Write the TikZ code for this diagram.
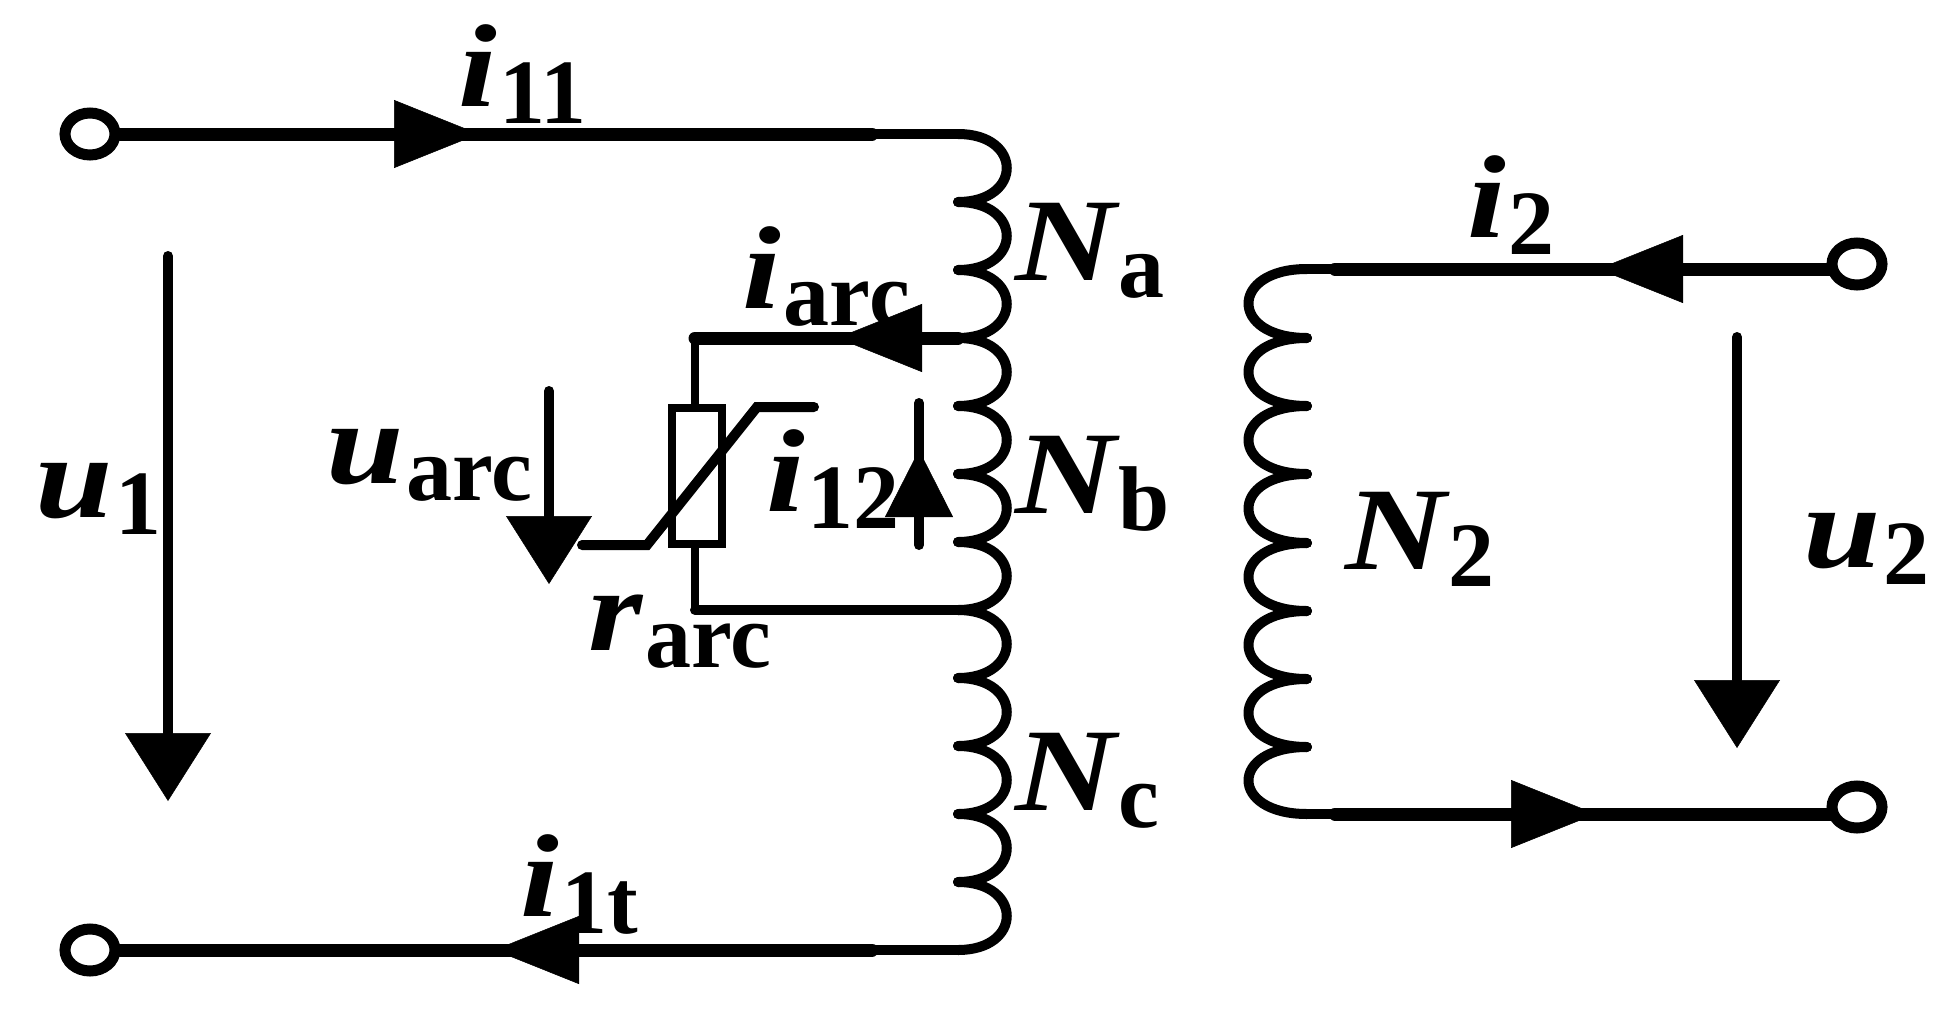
\documentclass[tikz,border=0pt]{standalone}
\usepackage{fontspec}
\setmainfont{Liberation Serif}
\usepackage{tikz}
\usetikzlibrary{shapes.geometric,arrows.meta}
\pgfdeclarelayer{edgelayer}
\pgfdeclarelayer{nodelayer}
\pgfsetlayers{edgelayer,nodelayer,main}
\tikzstyle{terminal}=[ellipse, fill=white, draw=black, line width=11pt, minimum width=50pt, minimum height=42pt, inner sep=0pt]
\tikzstyle{varistor}=[rectangle, draw=black, line width=8.5pt, minimum width=50pt, minimum height=136pt, inner sep=0pt]
\tikzstyle{label}=[inner sep=0pt, anchor=base west]
\tikzstyle{heavy}=[draw=black, line width=13pt, line cap=round]
\tikzstyle{light}=[draw=black, line width=10pt, line cap=round]
\tikzstyle{coilright}=[draw=black, line width=10pt, line cap=round, to path={(\tikztostart) .. controls +(65,0) and +(65,0) .. (\tikztotarget)}]
\tikzstyle{coilleft}=[draw=black, line width=10pt, line cap=round, to path={(\tikztostart) .. controls +(-78,0) and +(-78,0) .. (\tikztotarget)}]
\tikzstyle{head}=[draw=black, line width=0.5pt, -{Triangle[length=85pt,width=68pt]}]
\tikzstyle{smallhead}=[draw=black, line width=0.5pt, -{Triangle[length=67pt,width=68pt]}]
\tikzstyle{bighead}=[draw=black, line width=0.5pt, -{Triangle[length=68pt,width=86pt]}]
\newcommand{\sym}[2]{\scalebox{1.18}[1]{\fontsize{118}{118}\selectfont\bfseries\itshape #1}\hspace{3pt}{\fontsize{92}{92}\selectfont\bfseries\raisebox{-17pt}{#2}}}
\begin{document}
\begin{tikzpicture}[x=1pt,y=-1pt]
	\useasboundingbox (0,0) rectangle (1954,1017);
	\begin{pgfonlayer}{nodelayer}

	%terminals
		\node [style=terminal] (t1) at (90,134) {};
		\node [style=terminal] (t2) at (90,950) {};
		\node [style=terminal] (t3) at (1857,264) {};
		\node [style=terminal] (t4) at (1857,807) {};
		\node [style=varistor] (r) at (697,476) {};

	%labels
		\node [style=label] (li11) at (458,106) {\sym{i}{11}};
		\node [style=label] (li1t) at (520,916) {\sym{i}{1t}};
		\node [style=label] (liarc) at (742,308) {\sym{i}{arc}};
		\node [style=label] (li12) at (766,511) {\sym{i}{12}};
		\node [style=label] (li2) at (1467,237) {\sym{i}{2}};
		\node [style=label] (lu1) at (35,517) {\sym{u}{1}};
		\node [style=label] (luarc) at (326,483) {\sym{u}{arc}};
		\node [style=label] (lu2) at (1803,567) {\sym{u}{2}};
		\node [style=label] (lrarc) at (588,650) {\sym{r}{arc}};
		\node [style=label] (lna) at (1015,280) {\sym{N}{a}};
		\node [style=label] (lnb) at (1015,513) {\sym{N}{b}};
		\node [style=label] (lnc) at (1015,810) {\sym{N}{c}};
		\node [style=label] (ln2) at (1345,569) {\sym{N}{2}};

	\end{pgfonlayer}

	%primary winding
	\coordinate (a0) at (958,134);
	\coordinate (a1) at (958,202);
	\coordinate (a2) at (958,270);
	\coordinate (a3) at (958,338);
	\coordinate (a4) at (958,406);
	\coordinate (a5) at (958,474);
	\coordinate (a6) at (958,542);
	\coordinate (a7) at (958,610);
	\coordinate (a8) at (958,678);
	\coordinate (a9) at (958,746);
	\coordinate (a10) at (958,814);
	\coordinate (a11) at (958,882);
	\coordinate (a12) at (958,950);

	%secondary winding
	\coordinate (b0) at (1307,269);
	\coordinate (b1) at (1307,338);
	\coordinate (b2) at (1307,406);
	\coordinate (b3) at (1307,474);
	\coordinate (b4) at (1307,543);
	\coordinate (b5) at (1307,611);
	\coordinate (b6) at (1307,679);
	\coordinate (b7) at (1307,747);
	\coordinate (b8) at (1307,814);

	%wire ends
	\coordinate (c1) at (872,134);
	\coordinate (c2) at (872,950);
	\coordinate (c3) at (695,338);
	\coordinate (c4) at (695,610);
	\coordinate (c5) at (1335,269);
	\coordinate (c6) at (1335,814);
	\coordinate (c7) at (1835,269);
	\coordinate (c8) at (1835,814);

	%arrows
	\coordinate (h1) at (394,134);
	\coordinate (k1) at (479,134);
	\coordinate (h2) at (579,950);
	\coordinate (k2) at (494,950);
	\coordinate (h3) at (922,338);
	\coordinate (k3) at (837,338);
	\coordinate (h4) at (1683,269);
	\coordinate (k4) at (1598,269);
	\coordinate (h5) at (1511,814);
	\coordinate (k5) at (1596,814);
	\coordinate (h6) at (919,517);
	\coordinate (k6) at (919,450);
	\coordinate (e6) at (919,403);
	\coordinate (f6) at (919,545);
	\coordinate (e7) at (168,256);
	\coordinate (h7) at (168,733);
	\coordinate (k7) at (168,801);
	\coordinate (e8) at (549,391);
	\coordinate (h8) at (549,516);
	\coordinate (k8) at (549,584);
	\coordinate (e9) at (1737,337);
	\coordinate (h9) at (1737,680);
	\coordinate (k9) at (1737,748);

	%varistor slope
	\coordinate (v1) at (582,545);
	\coordinate (v2) at (647,545);
	\coordinate (v3) at (757,407);
	\coordinate (v4) at (814,407);

	\begin{pgfonlayer}{edgelayer}

		%primary
		\draw [style=heavy] (t1) to (c1);
		\draw [style=light] (c1) to (a0);
		\draw [style=heavy] (t2) to (c2);
		\draw [style=light] (c2) to (a12);
		\draw [style=coilright] (a0) to (a1);
		\draw [style=coilright] (a1) to (a2);
		\draw [style=coilright] (a2) to (a3);
		\draw [style=coilright] (a3) to (a4);
		\draw [style=coilright] (a4) to (a5);
		\draw [style=coilright] (a5) to (a6);
		\draw [style=coilright] (a6) to (a7);
		\draw [style=coilright] (a7) to (a8);
		\draw [style=coilright] (a8) to (a9);
		\draw [style=coilright] (a9) to (a10);
		\draw [style=coilright] (a10) to (a11);
		\draw [style=coilright] (a11) to (a12);

		%arc branch
		\draw [style=heavy] (c3) to (a3);
		\draw [style=light] (c4) to (a7);
		\draw [style=light, line width=8pt] (c3) to (c3 |- r.north);
		\draw [style=light, line width=8pt] (c4) to (c4 |- r.south);
		\draw [style=light] (v1) -- (v2) -- (v3) -- (v4);

		%secondary
		\draw [style=heavy] (c7) to (c5);
		\draw [style=light] (c5) to (b0);
		\draw [style=heavy] (c8) to (c6);
		\draw [style=light] (c6) to (b8);
		\draw [style=coilleft] (b0) to (b1);
		\draw [style=coilleft] (b1) to (b2);
		\draw [style=coilleft] (b2) to (b3);
		\draw [style=coilleft] (b3) to (b4);
		\draw [style=coilleft] (b4) to (b5);
		\draw [style=coilleft] (b5) to (b6);
		\draw [style=coilleft] (b6) to (b7);
		\draw [style=coilleft] (b7) to (b8);

		%voltage and current marks
		\draw [style=light] (e7) to (h7);
		\draw [style=light] (e8) to (h8);
		\draw [style=light] (e9) to (h9);
		\draw [style=light] (e6) to (f6);

	\end{pgfonlayer}

	\draw [style=head] (h1) to (k1);
	\draw [style=head] (h2) to (k2);
	\draw [style=head] (h3) to (k3);
	\draw [style=head] (h4) to (k4);
	\draw [style=head] (h5) to (k5);
	\draw [style=smallhead] (h6) to (k6);
	\draw [style=bighead] (h7) to (k7);
	\draw [style=bighead] (h8) to (k8);
	\draw [style=bighead] (h9) to (k9);
\end{tikzpicture}
\end{document}
